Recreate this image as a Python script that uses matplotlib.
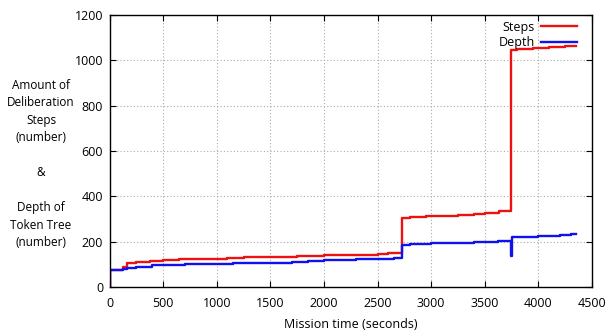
import matplotlib
matplotlib.use("Agg")
import matplotlib.pyplot as plt

plt.rcParams['font.family'] = ['Open Sans', 'DejaVu Sans']

steps_t = [0, 5, 130, 160, 250, 380, 500, 650, 800, 1100, 1250, 1750, 1850, 2000, 2100, 2500, 2600,
           2730, 2800, 2950, 3100, 3250, 3400, 3500, 3630, 3740, 3800, 3950, 4100, 4250, 4350]
steps_v = [0, 75, 90, 105, 110, 115, 118, 122, 125, 128, 132, 135, 138, 140, 143, 145, 148,
           305, 310, 313, 315, 318, 322, 325, 335, 1045, 1050, 1055, 1060, 1065, 1065]

depth_t = [0, 5, 130, 160, 250, 400, 500, 700, 900, 1150, 1400, 1700, 1850, 2000, 2300, 2600, 2650,
           2730, 2800, 3000, 3200, 3400, 3620, 3740, 3750, 3850, 4000, 4200, 4300, 4350]
depth_v = [0, 75, 80, 85, 90, 95, 98, 100, 103, 106, 108, 110, 115, 118, 122, 125, 130,
           185, 190, 192, 195, 200, 205, 135, 220, 222, 225, 230, 235, 235]

xticks = [0, 500, 1000, 1500, 2000, 2500, 3000, 3500, 4000, 4500]
yticks = [0, 200, 400, 600, 800, 1000, 1200]

fig = plt.figure(figsize=(6.08, 3.33), dpi=100)
L, R, T, B = 109.5, 592, 15, 287
ax = fig.add_axes([L/608, 1-B/333, (R-L)/608, (B-T)/333])

ax.step(steps_t, steps_v, where='post', color='#ee1111', lw=1.7, label='Steps')
ax.step(depth_t, depth_v, where='post', color='#1111ee', lw=1.7, label='Depth')

ax.set_xlim(0, 4500)
ax.set_ylim(0, 1200)
ax.set_xticks(xticks)
ax.set_yticks(yticks)
ax.tick_params(direction='in', top=True, right=True, labelsize=9, length=4, color='black')
ax.tick_params(axis='y', pad=4.5)
ax.tick_params(axis='x', pad=7)
ax.grid(True, color='#aaaaaa', linestyle=(0, (1, 2)), lw=0.8)
for s in ax.spines.values():
    s.set_linewidth(1.0)

ax.set_xlabel('Mission time (seconds)', fontsize=9, labelpad=6)
ylab = "Amount of\nDeliberation\nSteps\n(number)\n\n&\n\nDepth of\nToken Tree\n(number)"
fig.text(41/608, 1-164/333, ylab, ha='center', va='center', fontsize=8.5, linespacing=1.45)

leg = ax.legend(loc='upper right', frameon=False, fontsize=9, markerfirst=False,
                handlelength=2.9, borderaxespad=0.3, labelspacing=0.2, handletextpad=0.5,
                bbox_to_anchor=(1 - 6/(R-L), 1 + 3/(B-T)))

fig.savefig('out.png', dpi=100)
